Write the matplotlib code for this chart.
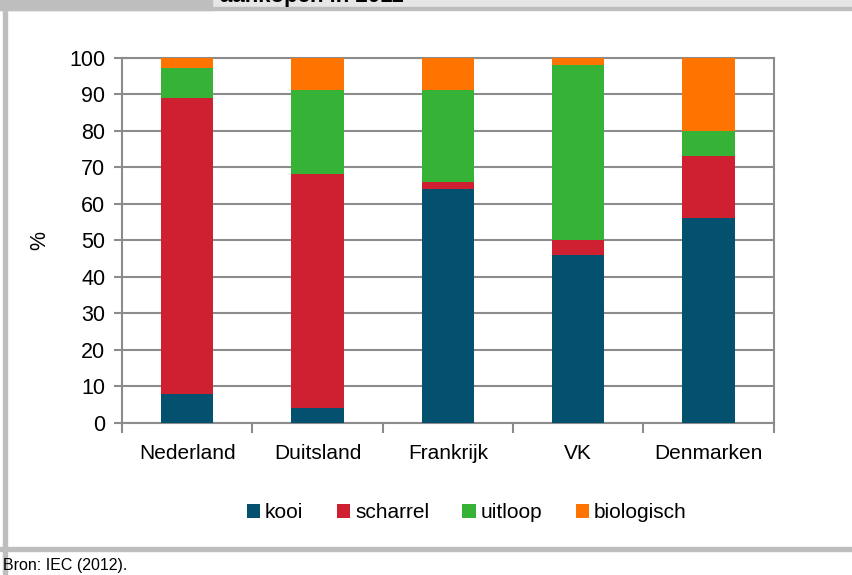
import matplotlib.pyplot as plt
from matplotlib.patches import Rectangle
import numpy as np

plt.rcParams['font.family'] = ['Liberation Sans', 'DejaVu Sans']

countries = ['Nederland', 'Duitsland', 'Frankrijk', 'VK', 'Denmarken']
kooi = [8, 4, 64, 46, 56]
scharrel = [81, 64, 2, 4, 17]
uitloop = [8, 23, 25, 48, 7]
biologisch = [3, 9, 9, 2, 20]

series = [('kooi', kooi, '#04506F'),
          ('scharrel', scharrel, '#CE2030'),
          ('uitloop', uitloop, '#36B336'),
          ('biologisch', biologisch, '#FF7300')]

fig = plt.figure(figsize=(8.53, 5.75), dpi=100)
ax = fig.add_axes([0.143, 0.2643, 0.764, 0.6357])

x = np.arange(len(countries))
bottom = np.zeros(len(countries))
for name, vals, color in series:
    ax.bar(x, vals, width=0.4, bottom=bottom, color=color, label=name, zorder=3)
    bottom += np.array(vals)

ax.set_xlim(-0.5, len(countries) - 0.5)
ax.set_ylim(0, 100)
ax.set_yticks(range(0, 101, 10))
ax.yaxis.grid(True, color='#8c8c8c', linewidth=1.5, zorder=0)
ax.set_xticks(x)
ax.set_xticklabels(countries)
ax.tick_params(axis='x', length=0, pad=15, labelsize=15)
ax.set_xticks(np.arange(-0.5, len(countries)), minor=True)
ax.tick_params(axis='x', which='minor', length=7, width=1.5, color='#8c8c8c')
ax.tick_params(axis='y', length=6, width=1.5, color='#8c8c8c', labelsize=15.5, pad=6)
for s in ax.spines.values():
    s.set_color('#8c8c8c')
    s.set_linewidth(1.5)
ax.set_ylabel('%', fontsize=15.5)
ax.yaxis.set_label_coords(-0.11, 0.5)

ax.legend(loc='center', bbox_to_anchor=(0.529, -0.246), ncol=4, frameon=False,
          fontsize=15, handlelength=0.63, handleheight=0.63, handletextpad=0.25,
          columnspacing=1.6)

# frame around the figure
grey = '#bebebe'
fig.patches.append(Rectangle((0.003, 0.0), 0.005, 0.982, transform=fig.transFigure,
                             color=grey, zorder=0))
fig.patches.append(Rectangle((0, 0.0417), 1, 0.007, transform=fig.transFigure,
                             color=grey, zorder=0))
fig.patches.append(Rectangle((0.248, 0.987), 0.752, 0.013, transform=fig.transFigure,
                             color='#e6e6e6', zorder=0))
fig.patches.append(Rectangle((0, 0.982), 0.248, 0.018, transform=fig.transFigure,
                             color=grey, zorder=0))
fig.patches.append(Rectangle((0, 0.982), 1, 0.006, transform=fig.transFigure,
                             color=grey, zorder=0))
fig.text(0.258, 0.997, 'aankopen in 2011', fontsize=16, fontweight='bold',
         va='baseline', ha='left', zorder=1)
fig.text(0.004, 0.016, 'Bron: IEC (2012).', fontsize=11.5, va='center', ha='left')

fig.savefig('out.png', dpi=100)
